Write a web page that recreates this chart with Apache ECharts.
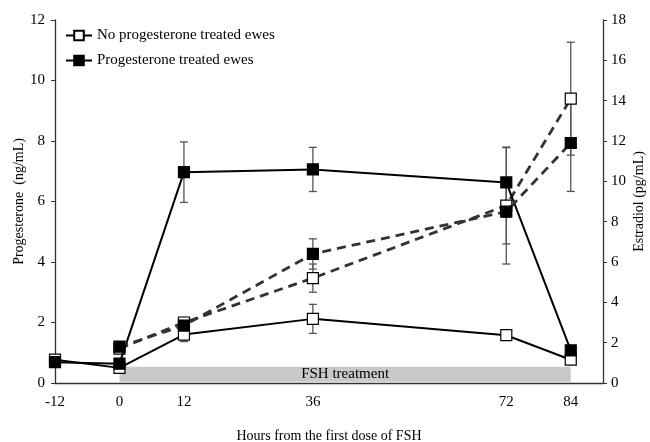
<!DOCTYPE html>
<html>
<head>
<meta charset="utf-8">
<script src="https://cdn.jsdelivr.net/npm/echarts@6/dist/echarts.min.js"></script>
<style>html,body{margin:0;padding:0;background:#fff}#c{width:650px;height:442px}</style>
</head>
<body>
<div id="c"></div>
<script>
// ---- data ----
const hours = [-12, 0, 12, 36, 72, 84];
const e2Hours = [0, 12, 36, 72, 84];
const xTickLabels = [-12, 0, 12, 36, 72, 84];
const p4NoTreat = [0.77, 0.5, 1.6, 2.12, 1.58, 0.77];
const p4NoTreatErr = [0, 0, 0.23, 0.48, 0, 0];
const p4Treat = [0.69, 0.64, 6.97, 7.06, 6.63, 1.08];
const p4TreatErr = [0, 0, 1.0, 0.73, 1.15, 0];
const e2NoTreat = [1.7, 3.0, 5.2, 8.8, 14.1];
const e2NoTreatErr = [0, 0.25, 0.7, 2.9, 2.8];
const e2Treat = [1.8, 2.85, 6.4, 8.5, 11.9];
const e2TreatErr = [0, 0.2, 0.75, 1.6, 2.4];
const fshRange = [0, 84];
const fshLevels = [0.04, 0.54];
const nameNo = 'No progesterone treated ewes';
const nameYes = 'Progesterone treated ewes';

const FONT = 'Liberation Serif';
const pairs = (xs, ys) => xs.map((x, i) => [x, ys[i]]);
const errs = (xs, ys, es) => xs.map((x, i) => [x, ys[i] - es[i], ys[i] + es[i]]).filter((d, i) => es[i] > 0);

function errItem(params, api) {
  const x = api.value(0), lo = api.value(1), hi = api.value(2);
  const p1 = api.coord([x, hi]), p2 = api.coord([x, lo]);
  const w = 4;
  const st = { stroke: '#555', lineWidth: 1.3 };
  return { type: 'group', children: [
    { type: 'line', shape: { x1: p1[0], y1: p1[1], x2: p2[0], y2: p2[1] }, style: st },
    { type: 'line', shape: { x1: p1[0] - w, y1: p1[1], x2: p1[0] + w, y2: p1[1] }, style: st },
    { type: 'line', shape: { x1: p2[0] - w, y1: p2[1], x2: p2[0] + w, y2: p2[1] }, style: st }
  ]};
}

const openSym = { color: '#fff', borderColor: '#000', borderWidth: 1.2 };
const fillSym = { color: '#000', borderColor: '#000', borderWidth: 1.2 };

const chart = echarts.init(document.getElementById('c'), null, { renderer: 'canvas' });
chart.setOption({
  animation: false,
  backgroundColor: '#fff',
  textStyle: { fontFamily: FONT },
  grid: { left: 55, right: 47, top: 20, bottom: 59, containLabel: false, outerBoundsMode: 'none' },
  legend: {
    data: [nameNo, nameYes],
    orient: 'vertical', left: 60, top: 23,
    itemWidth: 26, itemHeight: 12, itemGap: 10,
    textStyle: { fontFamily: FONT, fontSize: 15, color: '#000' }
  },
  xAxis: {
    type: 'value', min: -12, max: 90,
    name: 'Hours from the first dose of FSH', nameLocation: 'middle', nameGap: 46, nameMoveOverlap: false,
    nameTextStyle: { fontFamily: FONT, fontSize: 14, color: '#000' },
    axisLine: { show: true, onZero: false, lineStyle: { color: '#333', width: 1.3 } },
    axisTick: { show: false },
    splitLine: { show: false },
    axisLabel: { customValues: xTickLabels, margin: 12, fontFamily: FONT, fontSize: 15, color: '#000' }
  },
  yAxis: [{
    type: 'value', min: 0, max: 12, interval: 2,
    name: 'Progesterone  (ng/mL)', nameLocation: 'middle', nameGap: 29, nameMoveOverlap: false,
    nameTextStyle: { fontFamily: FONT, fontSize: 14, color: '#000' },
    axisLine: { show: true, onZero: false, lineStyle: { color: '#333', width: 1.3 } },
    axisTick: { show: true, length: 4, lineStyle: { color: '#333' } },
    splitLine: { show: false },
    axisLabel: { margin: 10, fontFamily: FONT, fontSize: 15, color: '#000' }
  }, {
    type: 'value', min: 0, max: 18, interval: 2, position: 'right',
    name: 'Estradiol (pg/mL)', nameLocation: 'middle', nameGap: 29, nameRotate: 90, nameMoveOverlap: false,
    nameTextStyle: { fontFamily: FONT, fontSize: 14, color: '#000' },
    axisLine: { show: true, onZero: false, lineStyle: { color: '#333', width: 1.3 } },
    axisTick: { show: true, length: 4, lineStyle: { color: '#333' } },
    splitLine: { show: false },
    axisLabel: { margin: 8, fontFamily: FONT, fontSize: 15, color: '#000' }
  }],
  series: [
    { type: 'custom', name: 'errP4No', yAxisIndex: 0, renderItem: errItem, encode: { x: 0, y: [1, 2] }, data: errs(hours, p4NoTreat, p4NoTreatErr), z: 1 },
    { type: 'custom', name: 'errP4Yes', yAxisIndex: 0, renderItem: errItem, encode: { x: 0, y: [1, 2] }, data: errs(hours, p4Treat, p4TreatErr), z: 1 },
    { type: 'custom', name: 'errE2No', yAxisIndex: 1, renderItem: errItem, encode: { x: 0, y: [1, 2] }, data: errs(e2Hours, e2NoTreat, e2NoTreatErr), z: 1 },
    { type: 'custom', name: 'errE2Yes', yAxisIndex: 1, renderItem: errItem, encode: { x: 0, y: [1, 2] }, data: errs(e2Hours, e2Treat, e2TreatErr), z: 1 },
    {
      type: 'line', name: nameNo, yAxisIndex: 0, data: pairs(hours, p4NoTreat),
      symbol: 'rect', symbolSize: 11, showAllSymbol: true,
      lineStyle: { color: '#000', width: 2 }, itemStyle: openSym, z: 3,
      markArea: {
        silent: true,
        itemStyle: { color: '#c9c9c9' },
        label: { show: true, position: 'inside', formatter: 'FSH treatment', fontFamily: FONT, fontSize: 15, color: '#000' },
        data: [[{ xAxis: fshRange[0], yAxis: fshLevels[0] }, { xAxis: fshRange[1], yAxis: fshLevels[1] }]]
      }
    },
    {
      type: 'line', name: nameYes, yAxisIndex: 0, data: pairs(hours, p4Treat),
      symbol: 'rect', symbolSize: 11, showAllSymbol: true,
      lineStyle: { color: '#000', width: 2 }, itemStyle: fillSym, z: 4
    },
    {
      type: 'line', name: nameNo, yAxisIndex: 1, data: pairs(e2Hours, e2NoTreat),
      symbol: 'rect', symbolSize: 11, showAllSymbol: true,
      lineStyle: { color: '#333', width: 2.8, type: [9, 6] }, itemStyle: openSym, z: 3
    },
    {
      type: 'line', name: nameYes, yAxisIndex: 1, data: pairs(e2Hours, e2Treat),
      symbol: 'rect', symbolSize: 11, showAllSymbol: true,
      lineStyle: { color: '#333', width: 2.8, type: [9, 6] }, itemStyle: fillSym, z: 4
    }
  ]
});
</script>
</body>
</html>
